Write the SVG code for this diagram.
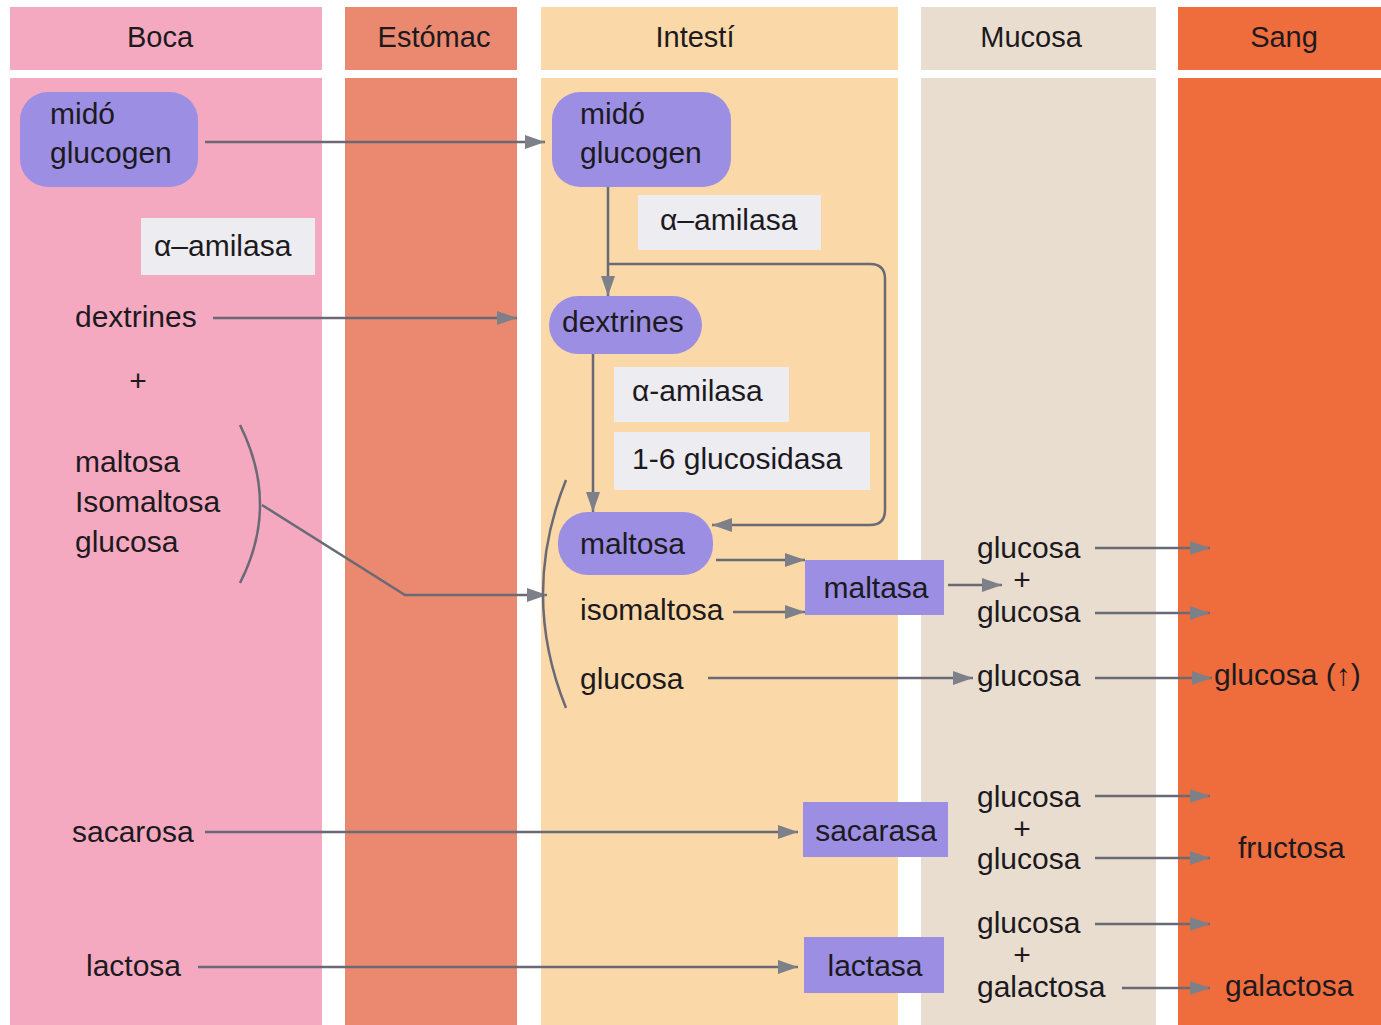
<svg xmlns="http://www.w3.org/2000/svg" width="1381" height="1025" viewBox="0 0 1381 1025">
<defs>
<marker id="ah" markerUnits="userSpaceOnUse" markerWidth="22" markerHeight="16" refX="20" refY="7" orient="auto">
<path d="M0,0 L20,7 L0,14 z" fill="#7d8088"/>
</marker>
<style>
text{font-family:"Liberation Sans",Arial,sans-serif;font-size:30px;fill:#1c1a1e}
.h{font-size:29px;text-anchor:middle}
.c{text-anchor:middle}
.sub{fill:#9c8ee2}
.enz{fill:#ececf1}
.ln{fill:none;stroke:#696a76;stroke-width:2.5}
.ar{marker-end:url(#ah)}
</style>
</defs>
<rect width="1381" height="1025" fill="#ffffff"/>
<g id="columns">
<rect x="10" y="7" width="312" height="63" fill="#f5a9c0"/>
<rect x="10" y="78" width="312" height="947" fill="#f5a9c0"/>
<rect x="345" y="7" width="172" height="63" fill="#ea896f"/>
<rect x="345" y="78" width="172" height="947" fill="#ea896f"/>
<rect x="541" y="7" width="357" height="63" fill="#fbd8a7"/>
<rect x="541" y="78" width="357" height="947" fill="#fbd8a7"/>
<rect x="921" y="7" width="235" height="63" fill="#e9ddcf"/>
<rect x="921" y="78" width="235" height="947" fill="#e9ddcf"/>
<rect x="1178" y="7" width="203" height="63" fill="#ef6d3d"/>
<rect x="1178" y="78" width="203" height="947" fill="#ef6d3d"/>
<text class="h" x="160" y="47">Boca</text>
<text class="h" x="434" y="47">Estómac</text>
<text class="h" x="695" y="47">Intestí</text>
<text class="h" x="1031" y="47">Mucosa</text>
<text class="h" x="1284" y="47">Sang</text>
</g>
<g id="connectors">
<path class="ln ar" d="M205,142 H545"/>
<path class="ln ar" d="M213,318 H517"/>
<path class="ln ar" d="M608,187 V296"/>
<path class="ln ar" d="M608,264 H870 Q885,264 885,279 V510 Q885,525 870,525 H712"/>
<path class="ln ar" d="M593,354 V512"/>
<path class="ln" d="M240,425 Q280,505 240,583"/>
<path class="ln ar" d="M262,505 L405,595 H547"/>
<path class="ln" d="M566,480 Q520,594 566,708"/>
<path class="ln ar" d="M716,560 H805"/>
<path class="ln ar" d="M733,612 H805"/>
<path class="ln ar" d="M948,585 H1002"/>
<path class="ln ar" d="M708,678 H973"/>
<path class="ln ar" d="M1095,548 H1210"/>
<path class="ln ar" d="M1095,613 H1210"/>
<path class="ln ar" d="M1095,678 H1212"/>
<path class="ln ar" d="M205,832 H798"/>
<path class="ln ar" d="M198,967 H798"/>
<path class="ln ar" d="M1095,796 H1210"/>
<path class="ln ar" d="M1095,858 H1210"/>
<path class="ln ar" d="M1095,924 H1210"/>
<path class="ln ar" d="M1122,988 H1210"/>
</g>
<g id="n-mido-boca"><rect class="sub" x="20" y="92" width="178" height="95" rx="28"/><text x="50" y="124">midó</text><text x="50" y="163">glucogen</text></g>
<g id="n-amilasa-boca"><rect class="enz" x="141" y="218" width="174" height="57"/><text x="154" y="256">α–amilasa</text></g>
<g id="n-dextrines-boca"><text x="75" y="327">dextrines</text></g>
<g id="n-plus-boca"><text class="c" x="138" y="391">+</text></g>
<g id="n-mix-boca"><text x="75" y="472">maltosa</text><text x="75" y="512">Isomaltosa</text><text x="75" y="552">glucosa</text></g>
<g id="n-sacarosa"><text x="72" y="842">sacarosa</text></g>
<g id="n-lactosa"><text x="86" y="976">lactosa</text></g>
<g id="n-mido-int"><rect class="sub" x="552" y="92" width="179" height="95" rx="28"/><text x="580" y="124">midó</text><text x="580" y="163">glucogen</text></g>
<g id="n-amilasa-int1"><rect class="enz" x="638" y="195" width="183" height="55"/><text x="660" y="230">α–amilasa</text></g>
<g id="n-dextrines-int"><rect class="sub" x="549" y="296" width="153" height="58" rx="29"/><text x="562" y="332">dextrines</text></g>
<g id="n-amilasa-int2"><rect class="enz" x="614" y="367" width="175" height="55"/><text x="632" y="401">α-amilasa</text></g>
<g id="n-glucosidasa"><rect class="enz" x="614" y="432" width="256" height="58"/><text x="632" y="469">1-6 glucosidasa</text></g>
<g id="n-maltosa-int"><rect class="sub" x="558" y="512" width="155" height="63" rx="30"/><text x="580" y="554">maltosa</text></g>
<g id="n-isomaltosa-int"><text x="580" y="620">isomaltosa</text></g>
<g id="n-glucosa-int"><text x="580" y="689">glucosa</text></g>
<g id="n-maltasa"><rect class="sub" x="805" y="560" width="139" height="55"/><text class="c" x="876" y="598">maltasa</text></g>
<g id="n-sacarasa"><rect class="sub" x="803" y="802" width="145" height="55"/><text class="c" x="876" y="841">sacarasa</text></g>
<g id="n-lactasa"><rect class="sub" x="804" y="937" width="140" height="56"/><text class="c" x="875" y="976">lactasa</text></g>
<g id="n-mucosa-maltasa"><text x="977" y="558">glucosa</text><text class="c" x="1022" y="590">+</text><text x="977" y="622">glucosa</text></g>
<g id="n-mucosa-glucosa"><text x="977" y="686">glucosa</text></g>
<g id="n-mucosa-sacarasa"><text x="977" y="807">glucosa</text><text class="c" x="1022" y="839">+</text><text x="977" y="869">glucosa</text></g>
<g id="n-mucosa-lactasa"><text x="977" y="933">glucosa</text><text class="c" x="1022" y="965">+</text><text x="977" y="997">galactosa</text></g>
<g id="n-sang-glucosa"><text x="1214" y="685">glucosa (↑)</text></g>
<g id="n-sang-fructosa"><text x="1238" y="858">fructosa</text></g>
<g id="n-sang-galactosa"><text x="1225" y="996">galactosa</text></g>
</svg>
